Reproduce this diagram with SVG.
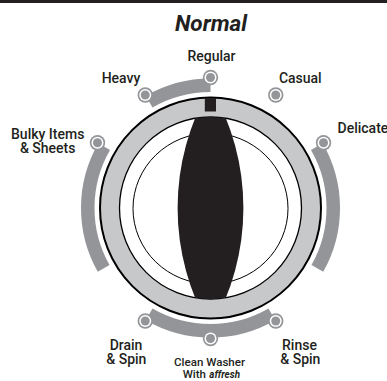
<svg xmlns="http://www.w3.org/2000/svg" width="387" height="381" viewBox="0 0 387 381">
<style>
.lbl{font-family:Roboto,"Liberation Sans",sans-serif;font-size:14px;font-weight:500;fill:#231f20}
.band{fill:none;stroke:#939598;stroke-width:13.5}
</style>
<defs>
<g id="dot"><circle r="7.7" fill="#939598"/><circle r="6" fill="#fff"/><circle r="4.5" fill="#939598"/></g>
<clipPath id="lensclip"><circle cx="0" cy="0" r="91"/></clipPath>
</defs>
<rect x="0" y="0" width="387" height="381" fill="#fff"/>
<rect x="0" y="0" width="387" height="3" fill="#231f20"/>
<text x="211" y="31" text-anchor="middle" style="font-family:Roboto,'Liberation Sans',sans-serif;font-size:22.5px;font-weight:bold;font-style:italic;fill:#231f20">Normal</text>

<g id="dial" transform="translate(210.5,208)">
<circle r="110.5" fill="#c7c8ca" stroke="#000" stroke-width="2"/>
<circle r="91" fill="#fff" stroke="#000" stroke-width="1.3"/>
<ellipse cx="0" cy="0.5" rx="77.5" ry="75.5" fill="none" stroke="#000" stroke-width="1"/>
<path d="M0,-121 A239,239 0 0 0 0,121 A239,239 0 0 0 0,-121 Z" fill="#231f20" clip-path="url(#lensclip)"/>
<rect x="-5.7" y="-110" width="11.2" height="13.5" fill="#231f20"/>
</g>

<g id="connectors">
<path class="band" d="M149.12,101.69 A122.75,122.75 0 0 1 210.5,85.25"/>
<path class="band" d="M316.81,146.62 A122.75,122.75 0 0 1 317.34,268.44"/>
<path class="band" d="M103.66,268.44 A122.75,122.75 0 0 1 104.19,146.62"/>
<path class="band" d="M271.88,314.31 A122.75,122.75 0 0 1 149.12,314.31"/>
</g>

<g id="regular"><use href="#dot" x="210.5" y="77.5"/><text class="lbl" x="211.5" y="60.5" text-anchor="middle">Regular</text></g>
<g id="heavy"><use href="#dot" x="145.25" y="94.98"/><text class="lbl" x="121" y="82.7" text-anchor="middle">Heavy</text></g>
<g id="casual"><use href="#dot" x="275.75" y="94.98"/><text class="lbl" x="300.3" y="82.7" text-anchor="middle">Casual</text></g>
<g id="delicate"><use href="#dot" x="323.52" y="142.75"/><text class="lbl" x="337.5" y="133.3">Delicate</text></g>
<g id="bulky"><use href="#dot" x="97.48" y="142.75"/><text class="lbl" x="47.7" y="138.5" text-anchor="middle">Bulky Items</text><text class="lbl" x="47.7" y="152.5" text-anchor="middle">&amp; Sheets</text></g>
<g id="drain"><use href="#dot" x="145.25" y="321.02"/><text class="lbl" x="126" y="350" text-anchor="middle">Drain</text><text class="lbl" x="126.3" y="364" text-anchor="middle">&amp; Spin</text></g>
<g id="clean"><use href="#dot" x="210.5" y="338.5"/><text class="lbl" x="209.5" y="366" text-anchor="middle" style="font-size:11.5px" textLength="71" lengthAdjust="spacingAndGlyphs">Clean Washer</text><text class="lbl" x="182.7" y="378.3" style="font-size:11.5px">With</text><text class="lbl" x="209.3" y="378.3" style="font-size:10.5px;font-weight:bold;font-style:italic" textLength="30.7" lengthAdjust="spacingAndGlyphs">affresh</text></g>
<g id="rinse"><use href="#dot" x="275.75" y="321.02"/><text class="lbl" x="299.5" y="350" text-anchor="middle">Rinse</text><text class="lbl" x="300.3" y="364" text-anchor="middle">&amp; Spin</text></g>
</svg>
